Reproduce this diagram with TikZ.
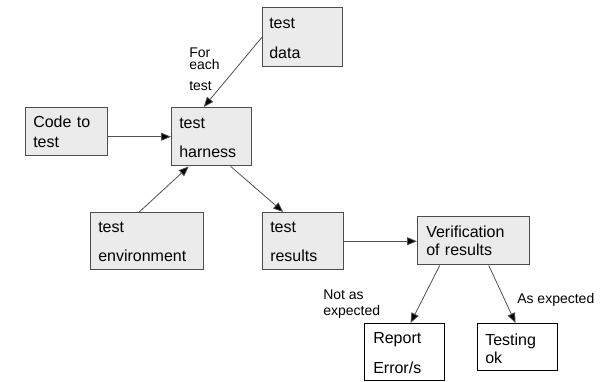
\documentclass[tikz,border=0pt]{standalone}
\usepackage{fontspec}
\setmainfont{Liberation Sans}
\usetikzlibrary{arrows.meta,calc}
\definecolor{boxfill}{HTML}{EBEBEB}
\definecolor{boxline}{HTML}{4D4D4D}
\definecolor{wireline}{HTML}{505050}
\tikzset{
  graybox/.style={draw=boxline, line width=1.1pt, fill=boxfill, inner sep=0pt, anchor=north west},
  whitebox/.style={draw=black, line width=0.8pt, fill=white, inner sep=0pt, anchor=north west},
  boxtext/.style={inner sep=0pt, anchor=base west, text width=120pt, align=left},
  flow/.style={draw=wireline, line width=0.6pt, -{Triangle[length=7.5pt, width=6pt, fill=black]}},
  lbl/.style={inner sep=0pt, anchor=base west, font=\fontsize{10.5}{12}\selectfont}
}
\begin{document}
\begin{tikzpicture}[x=0.75pt, y=-0.75pt]
\useasboundingbox (0,0) rectangle (608,382);

% boxes (sizes in pt)
\node[graybox, minimum width=60pt, minimum height=44.25pt]    (data)    at (262,7)   {};
\node[graybox, minimum width=61.5pt, minimum height=36pt]     (code)    at (25,107)  {};
\node[graybox, minimum width=60pt, minimum height=43.5pt]     (harness) at (171,107) {};
\node[graybox, minimum width=84.75pt, minimum height=42.75pt] (env)     at (90,212)  {};
\node[graybox, minimum width=60.75pt, minimum height=42.75pt] (results) at (262,212) {};
\node[graybox, minimum width=84pt, minimum height=36pt]       (verif)   at (417,216) {};
\node[whitebox, minimum width=60pt, minimum height=42.75pt]   (report)  at (364,323) {};
\node[whitebox, minimum width=60pt, minimum height=35.25pt]   (ok)      at (477,323) {};

% box texts
\node[boxtext, font=\fontsize{12}{22.5}\selectfont]  (dataT)    at (269,28)  {test\\data};
\node[boxtext, font=\fontsize{12}{15}\selectfont]    (codeT)    at (33,127)  {Code to\\test};
\node[boxtext, font=\fontsize{12}{21.75}\selectfont] (harnessT) at (179,128) {test\\harness};
\node[boxtext, font=\fontsize{12}{21.75}\selectfont] (envT)     at (98,232)  {test\\environment};
\node[boxtext, font=\fontsize{12}{21.75}\selectfont] (resultsT) at (270,232) {test\\results};
\node[boxtext, font=\fontsize{12}{13.5}\selectfont]  (verifT)   at (426,237) {Verification\\of results};
\node[boxtext, font=\fontsize{12}{22.5}\selectfont]  (reportT)  at (373,343) {Report\\Error/s};
\node[boxtext, font=\fontsize{12}{13.5}\selectfont]  (okT)      at (485,345) {Testing\\ok};

% connector labels
\node[lbl] (forA) at (189,57.5) {For};
\node[lbl] (forB) at (189,69.5) {each};
\node[lbl] (forC) at (189,90) {test};
\node[lbl] (notA) at (323,299) {Not as};
\node[lbl] (notB) at (323,315) {expected};
\node[lbl] (asexp) at (517,303) {As expected};

% connectors
\draw[flow] (data.west) -- ($(harness.north)+(-8,0)$);
\draw[flow] (code.east |- harness.west) -- (harness.west);
\draw[flow] ($(env.north)+(-8,0)$) -- ($(harness.south)+(-23,0)$);
\draw[flow] ($(harness.south)+(19,0)$) -- ($(results.north)+(-20,0)$);
\draw[flow] (results.east) -- (verif.west |- results.east);
\draw[flow] ($(verif.south)+(-34,0)$) -- ($(report.north)+(6,0)$);
\draw[flow] ($(verif.south)+(15,0)$) -- ($(ok.north)+(-2,0)$);
\end{tikzpicture}
\end{document}
